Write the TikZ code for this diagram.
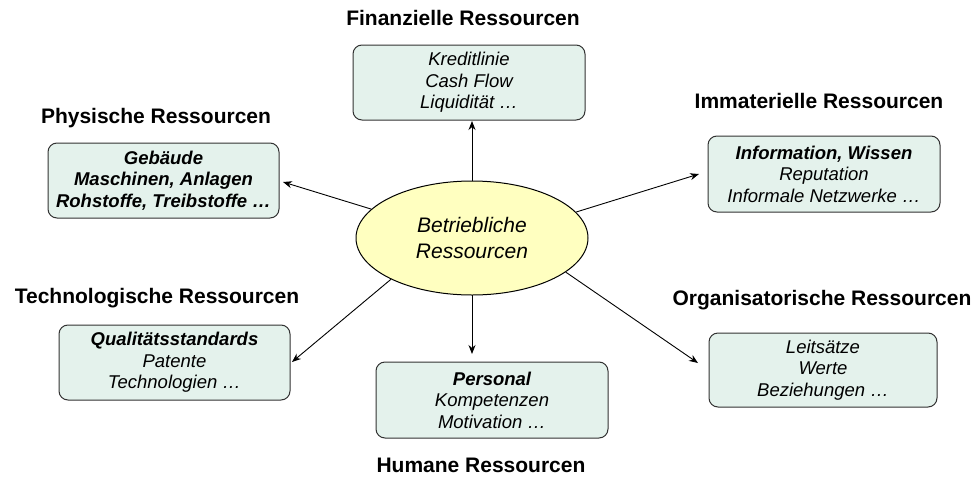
\documentclass[tikz,border=0pt]{standalone}
\usepackage{fontspec}
\setmainfont{Liberation Sans}
\usetikzlibrary{arrows.meta,shapes.geometric}
\definecolor{boxfill}{RGB}{228,242,236}
\definecolor{ellfill}{RGB}{255,255,192}
\definecolor{edge}{RGB}{50,50,50}
\tikzset{
  resbox/.style={draw=edge, line width=1pt, fill=boxfill, rounded corners=9pt,
    minimum width=#1, minimum height=75pt, align=center, inner sep=0pt,
    font=\fontsize{18.5}{21.5}\selectfont\itshape},
  resbox/.default=232pt,
  title/.style={font=\fontsize{21}{24}\selectfont\bfseries, inner sep=0pt},
  arr/.style={line width=0.9pt, -{Stealth[length=9pt,width=7pt]}}
}
\begin{document}
\begin{tikzpicture}[x=1pt,y=-1pt]
\useasboundingbox (0,0) rectangle (978,477);
% centre
\node[ellipse, draw=black, line width=1pt, fill=ellfill, minimum width=232pt, minimum height=114pt,
      inner sep=0pt, align=center, font=\fontsize{21}{26}\selectfont\itshape] (ell) at (472,238)
      {Betriebliche\\Ressourcen};
% boxes
\node[resbox] (fin) at (469,82.5) {Kreditlinie\\Cash Flow\\Liquidität …};
\node[resbox=231pt] (phys) at (163.5,180.5) {\textbf{Gebäude}\\\textbf{Maschinen, Anlagen}\\\textbf{Rohstoffe, Treibstoffe …}};
\node[resbox, minimum height=76pt] (imm) at (824,174) {\textbf{Information, Wissen}\\Reputation\\Informale Netzwerke …};
\node[resbox=231pt] (tech) at (174.5,362.5) {\textbf{Qualitätsstandards}\\Patente\\Technologien …};
\node[resbox=228pt, minimum height=74pt] (org) at (823,370) {Leitsätze\\Werte\\Beziehungen …};
\node[resbox, minimum height=76pt] (hum) at (492,400) {\textbf{Personal}\\Kompetenzen\\Motivation …};
% titles
\node[title] (tfin) at (463,18) {Finanzielle Ressourcen};
\node[title] (tphys) at (156,118) {Physische Ressourcen};
\node[title] (timm) at (819,101) {Immaterielle Ressourcen};
\node[title] (ttech) at (157,298) {Technologische Ressourcen};
\node[title] (torg) at (822,300) {Organisatorische Ressourcen};
\node[title] (thum) at (481,465) {Humane Ressourcen};
% arrow tips
\coordinate (pfin) at (472,121);
\coordinate (pphys) at (283,182);
\coordinate (pimm) at (699,174);
\coordinate (ptech) at (292,362);
\coordinate (porg) at (698,363);
\coordinate (phum) at (472,354);
\coordinate (sfin) at (472,181);
\coordinate (shum) at (472,295);
% connectors
\draw[arr] (sfin) -- (pfin);
\draw[arr] (ell.164) -- (pphys);
\draw[arr] (ell.14) -- (pimm);
\draw[arr] (ell.207) -- (ptech);
\draw[arr] (ell.340) -- (porg);
\draw[arr] (shum) -- (phum);
\end{tikzpicture}
\end{document}
